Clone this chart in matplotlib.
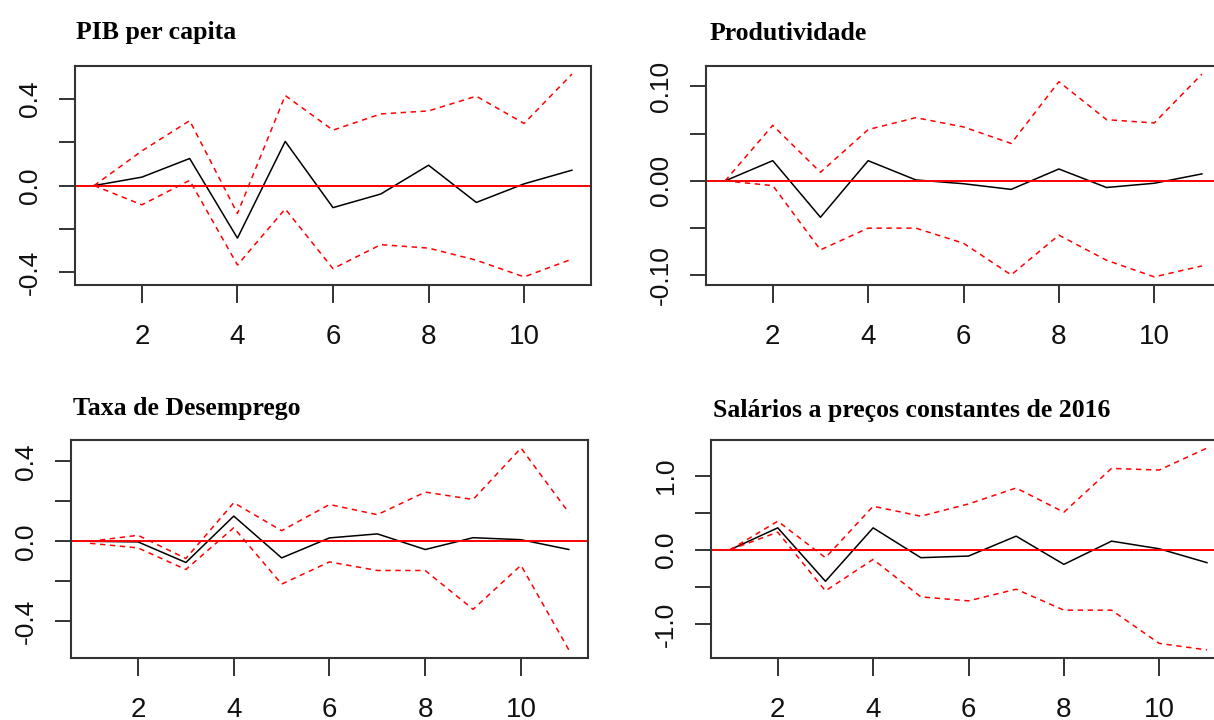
import matplotlib
matplotlib.use("AGG")
import matplotlib.pyplot as plt
import numpy as np

# horizonte (passos a frente)
steps = list(range(1, 12))

titles = ["PIB per capita", "Produtividade",
          "Taxa de Desemprego", "Salários a preços constantes de 2016"]

# resposta ao impulso e bandas
pib_irf = [0.0, 0.039, 0.125, -0.243, 0.204, -0.102, -0.039, 0.094, -0.078, 0.008, 0.071]
pib_up = [0.0, 0.16, 0.30, -0.129, 0.416, 0.256, 0.331, 0.345, 0.413, 0.287, 0.515]
pib_lo = [0.0, -0.089, 0.024, -0.367, -0.108, -0.384, -0.273, -0.289, -0.345, -0.422, -0.340]

prod_irf = [0.0, 0.0214, -0.0385, 0.0214, 0.001, -0.003, -0.009, 0.0126, -0.007, -0.0025, 0.0074]
prod_up = [0.0, 0.0588, 0.0091, 0.0543, 0.0669, 0.0571, 0.0396, 0.105, 0.0648, 0.0613, 0.113]
prod_lo = [0.0, -0.005, -0.073, -0.050, -0.050, -0.066, -0.0995, -0.0574, -0.084, -0.1016, -0.090]

desemp_irf = [0.0, -0.003, -0.106, 0.126, -0.083, 0.017, 0.037, -0.041, 0.018, 0.008, -0.041]
desemp_up = [0.0, 0.03, -0.086, 0.193, 0.053, 0.184, 0.133, 0.246, 0.209, 0.466, 0.143]
desemp_lo = [-0.01, -0.033, -0.141, 0.068, -0.214, -0.103, -0.146, -0.146, -0.340, -0.12, -0.543]

sal_irf = [0.0, 0.295, -0.425, 0.295, -0.107, -0.085, 0.183, -0.197, 0.116, 0.013, -0.174]
sal_up = [0.0, 0.385, -0.107, 0.586, 0.452, 0.617, 0.832, 0.506, 1.096, 1.074, 1.37]
sal_lo = [0.0, 0.237, -0.555, -0.130, -0.635, -0.689, -0.532, -0.814, -0.814, -1.262, -1.35]

series = [(pib_irf, pib_up, pib_lo), (prod_irf, prod_up, prod_lo),
          (desemp_irf, desemp_up, desemp_lo), (sal_irf, sal_up, sal_lo)]

yticks = [[-0.4, -0.2, 0.0, 0.2, 0.4], [-0.10, -0.05, 0.0, 0.05, 0.10],
          [-0.4, -0.2, 0.0, 0.2, 0.4], [-1.0, -0.5, 0.0, 0.5, 1.0]]
ylabs = [["-0.4", "", "0.0", "", "0.4"], ["-0.10", "", "0.00", "", "0.10"],
         ["-0.4", "", "0.0", "", "0.4"], ["-1.0", "", "0.0", "", "1.0"]]

W, H = 1214.0, 720.0
# caixas em pixels: esquerda, topo, largura, altura
boxes = [(75, 66, 516, 219), (706, 66, 515, 219),
         (71, 440, 517, 218), (711, 440, 515, 218)]
title_pos = [(76, 39.5), (710, 39.5), (73, 415.5), (713, 416.5)]

fig = plt.figure(figsize=(W / 100, H / 100), dpi=100)
fig.patch.set_facecolor("white")

for i in range(4):
    l, t, w, h = boxes[i]
    ax = fig.add_axes([l / W, 1 - (t + h) / H, w / W, h / H])
    irf, up, lo = series[i]
    ax.plot(steps, irf, color="black", lw=1.1)
    ax.plot(steps, up, color="red", lw=1.1, dashes=(3.5, 3.0))
    ax.plot(steps, lo, color="red", lw=1.1, dashes=(3.5, 3.0))
    ax.axhline(0, color="red", lw=1.4)
    ax.margins(x=0.04, y=0.04)
    ax.set_xticks([2, 4, 6, 8, 10])
    ax.set_xticklabels(["2", "4", "6", "8", "10"], family="Liberation Sans",
                       fontsize=20, color="#111111")
    ax.set_yticks(yticks[i])
    ax.set_yticklabels(ylabs[i], family="Liberation Sans", fontsize=19,
                       color="#111111", rotation=90, va="center")
    ax.tick_params(axis="x", length=13, width=1.4, pad=15, color="#333333")
    ax.tick_params(axis="y", length=11.5, width=1.4, pad=12, color="#333333")
    for sp in ax.spines.values():
        sp.set_color("#333333")
        sp.set_linewidth(1.5)
    tx, ty = title_pos[i]
    fig.text(tx / W, 1 - ty / H, titles[i], family="Liberation Serif",
             fontweight="bold", fontsize=18.5, ha="left", va="baseline")

fig.savefig("out.png", dpi=100)
